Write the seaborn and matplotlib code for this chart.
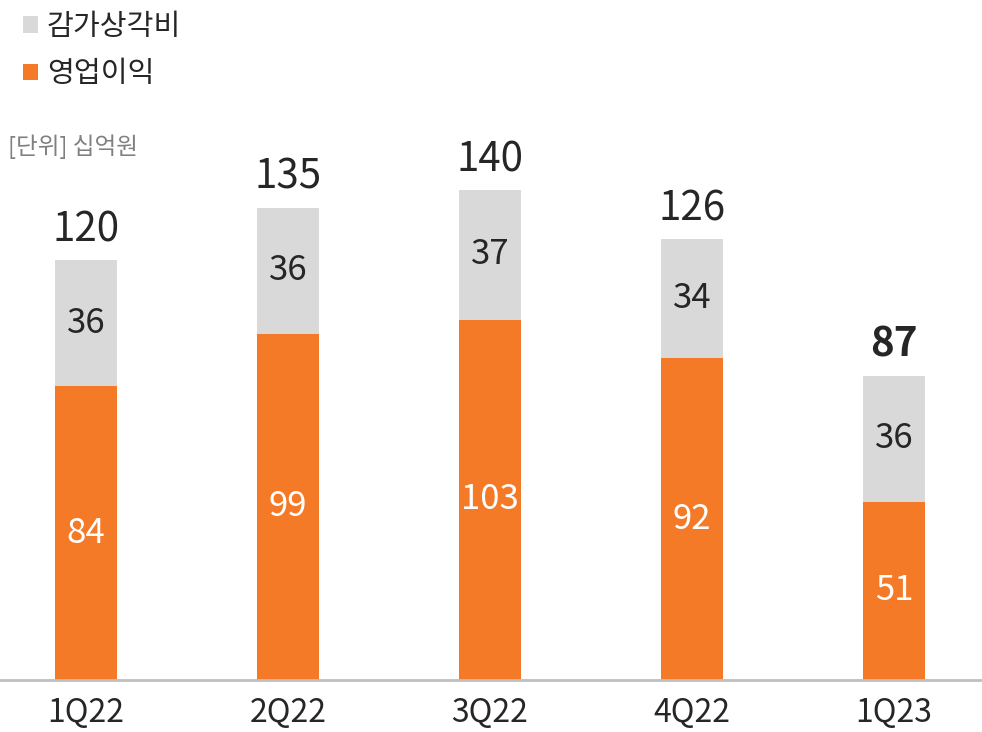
import matplotlib
matplotlib.use("Agg")
import matplotlib.pyplot as plt
from matplotlib.patches import Patch
import seaborn as sns
import pandas as pd

categories = ["1Q22", "2Q22", "3Q22", "4Q22", "1Q23"]
op_income = [84, 99, 103, 92, 51]          # 영업이익
depreciation = [36, 36, 37, 34, 36]        # 감가상각비
totals = [120, 135, 140, 126, 87]

ORANGE = "#F47A27"
GRAY = "#D9D9D9"

sns.set_theme(style="white")
plt.rcParams["font.family"] = ["Noto Sans CJK KR", "DejaVu Sans"]

df = pd.DataFrame({"cat": categories, "op": op_income, "dep": depreciation, "total": totals})
df["stack"] = df["op"] + df["dep"]

fig = plt.figure(figsize=(9.82, 7.32), dpi=100)
ax = fig.add_axes([0, 52 / 732, 1, 680 / 732])

sns.barplot(data=df, x="cat", y="stack", color=GRAY, width=0.307, ax=ax,
            saturation=1, linewidth=0)
sns.barplot(data=df, x="cat", y="op", color=ORANGE, width=0.307, ax=ax,
            saturation=1, linewidth=0)

ax.set_xlim(-0.426, 4.436)
ax.set_ylim(0, 194.3)

for i, (o, d, t) in enumerate(zip(op_income, depreciation, totals)):
    ax.text(i, o / 2, f"{o}", ha="center", va="center", color="white", fontsize=25)
    ax.text(i, o + d / 2, f"{d}", ha="center", va="center", color="#262626", fontsize=25)
    ax.annotate(f"{t}", (i, o + d), xytext=(0, 7), textcoords="offset points",
                ha="center", va="bottom", color="#262626", fontsize=29,
                fontweight="bold" if i == len(totals) - 1 else "medium")

for s in ["top", "right", "left"]:
    ax.spines[s].set_visible(False)
ax.spines["bottom"].set_color("#BFBFBF")
ax.spines["bottom"].set_linewidth(2)
ax.set_yticks([])
ax.set_xlabel("")
ax.set_ylabel("")
ax.tick_params(axis="x", length=0, pad=12, labelsize=23, labelcolor="#262626")

handles = [Patch(facecolor=GRAY, edgecolor="none", label="감가상각비"),
           Patch(facecolor=ORANGE, edgecolor="none", label="영업이익")]
fig.legend(handles=handles, loc="upper left", bbox_to_anchor=(0.012, 1.0),
           frameon=False, fontsize=21, handlelength=0.5, handleheight=0.5,
           handletextpad=0.3, labelspacing=0.6, borderaxespad=0)

fig.text(8 / 982, 1 - 147 / 732, "[단위] 십억원", fontsize=17, color="#808080",
         ha="left", va="center")

fig.savefig("out.png", dpi=100)
